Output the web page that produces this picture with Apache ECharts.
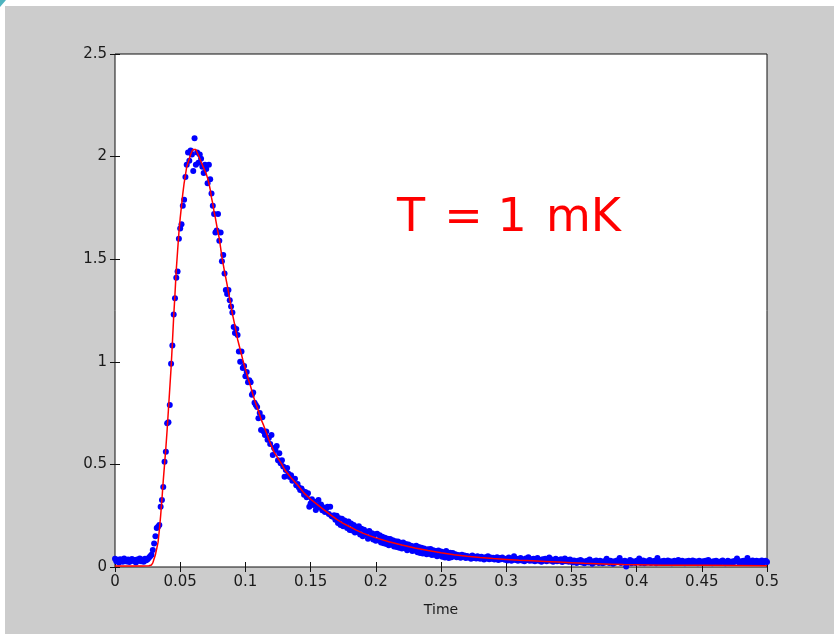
<!DOCTYPE html>
<html>
<head>
<meta charset="utf-8">
<script src="https://cdn.jsdelivr.net/npm/echarts@6/dist/echarts.min.js"></script>
<style>
html,body{margin:0;padding:0;background:#fff;width:834px;height:634px;overflow:hidden;}
#chart{position:absolute;left:5px;top:6px;width:829px;height:628px;}
#corner{position:absolute;left:0;top:0;width:6px;height:7px;background:#4fb4bf;clip-path:polygon(0 0,100% 0,0 100%);}
</style>
</head>
<body>
<div id="corner"></div>
<div id="chart"></div>
<script>
// Measured samples: one value every 0.001 s, from t = 0 to t = 0.5
const sampleStart = 0;
const sampleStep = 0.001;
const measured = [
0.040,0.028,0.035,0.022,0.038,0.030,0.026,0.041,0.033,0.027,
0.036,0.024,0.031,0.039,0.029,0.034,0.022,0.037,0.030,0.042,
0.028,0.035,0.026,0.040,0.033,0.038,0.045,0.052,0.060,0.083,
0.115,0.150,0.190,0.196,0.205,0.294,0.327,0.390,0.513,0.562,
0.700,0.705,0.790,0.990,1.080,1.230,1.310,1.410,1.440,1.600,
1.650,1.670,1.760,1.790,1.900,1.960,2.020,1.980,2.030,2.010,
1.930,2.090,1.960,2.020,1.970,2.010,1.990,1.950,1.920,1.960,
1.940,1.870,1.960,1.890,1.820,1.760,1.720,1.630,1.640,1.720,
1.590,1.630,1.490,1.520,1.430,1.350,1.330,1.350,1.300,1.270,
1.240,1.170,1.140,1.160,1.130,1.050,1.000,1.050,0.970,0.980,
0.930,0.950,0.900,0.910,0.900,0.840,0.850,0.800,0.790,0.780,
0.725,0.750,0.668,0.730,0.660,0.643,0.660,0.620,0.630,0.600,
0.643,0.546,0.580,0.570,0.590,0.520,0.554,0.505,0.520,0.490,
0.440,0.473,0.482,0.455,0.438,0.447,0.420,0.424,0.430,0.398,
0.405,0.388,0.375,0.382,0.370,0.352,0.365,0.340,0.359,0.294,
0.310,0.330,0.302,0.318,0.278,0.300,0.327,0.290,0.305,0.276,
0.290,0.268,0.285,0.294,0.258,0.294,0.248,0.245,0.252,0.230,
0.250,0.215,0.238,0.205,0.235,0.198,0.226,0.214,0.190,0.222,
0.180,0.212,0.178,0.205,0.168,0.196,0.172,0.198,0.158,0.186,
0.150,0.182,0.160,0.170,0.138,0.176,0.146,0.165,0.134,0.160,
0.128,0.162,0.130,0.155,0.120,0.148,0.116,0.142,0.112,0.138,
0.106,0.136,0.110,0.130,0.100,0.126,0.098,0.124,0.094,0.118,
0.090,0.120,0.092,0.112,0.082,0.110,0.086,0.104,0.078,0.100,
0.080,0.104,0.072,0.098,0.068,0.094,0.066,0.090,0.074,0.062,
0.086,0.064,0.088,0.058,0.082,0.060,0.078,0.052,0.080,0.056,
0.076,0.050,0.072,0.046,0.078,0.052,0.044,0.070,0.048,0.068,
0.052,0.062,0.048,0.058,0.055,0.045,0.060,0.050,0.056,0.044,
0.054,0.046,0.050,0.040,0.056,0.044,0.050,0.042,0.052,0.046,
0.040,0.050,0.044,0.036,0.048,0.042,0.052,0.038,0.046,0.040,
0.045,0.036,0.042,0.048,0.034,0.044,0.038,0.046,0.040,0.035,
0.040,0.032,0.046,0.036,0.030,0.042,0.052,0.034,0.040,0.030,
0.038,0.044,0.032,0.036,0.028,0.042,0.034,0.048,0.030,0.038,
0.032,0.040,0.028,0.036,0.044,0.030,0.034,0.026,0.038,0.032,
0.040,0.028,0.034,0.046,0.030,0.036,0.026,0.032,0.040,0.028,
0.034,0.030,0.038,0.024,0.032,0.042,0.028,0.034,0.026,0.036,
0.028,0.022,0.032,0.026,0.020,0.030,0.024,0.034,0.022,0.028,
0.018,0.026,0.030,0.022,0.036,0.024,0.016,0.028,0.022,0.032,
0.026,0.020,0.030,0.024,0.018,0.028,0.022,0.040,0.026,0.020,
0.030,0.024,0.016,0.028,0.022,0.032,0.026,0.044,0.020,0.028,
0.024,0.030,0.002,0.022,0.026,0.034,0.018,0.028,0.024,0.020,
0.030,0.024,0.042,0.020,0.026,0.032,0.018,0.028,0.022,0.026,
0.034,0.020,0.028,0.024,0.030,0.018,0.044,0.026,0.022,0.028,
0.024,0.030,0.020,0.026,0.032,0.022,0.028,0.018,0.026,0.030,
0.022,0.028,0.034,0.020,0.026,0.030,0.024,0.018,0.028,0.024,
0.030,0.020,0.026,0.032,0.022,0.028,0.024,0.018,0.030,0.026,
0.022,0.028,0.020,0.030,0.024,0.034,0.022,0.026,0.018,0.028,
0.024,0.030,0.022,0.026,0.020,0.028,0.032,0.024,0.018,0.026,
0.030,0.022,0.026,0.020,0.028,0.024,0.032,0.042,0.026,0.020,
0.028,0.024,0.030,0.022,0.026,0.044,0.020,0.028,0.024,0.032,
0.022,0.026,0.030,0.020,0.028,0.024,0.032,0.022,0.026,0.030,0.024
];

// Fitted curve (red)
const fitTime = [0,0.01,0.02,0.026,0.028,0.029,0.030,0.031,0.032,0.033,0.034,0.035,0.036,0.037,0.038,0.039,0.040,0.041,0.042,0.043,0.044,0.045,0.046,0.047,0.048,0.049,0.050,0.051,0.052,0.053,0.054,0.055,0.056,0.057,0.058,0.059,0.060,0.061,0.062,0.063,0.064,0.065,0.066,0.067,0.068,0.069,0.070,0.071,0.072,0.073,0.074,0.075,0.076,0.077,0.078,0.079,0.080,0.082,0.084,0.086,0.088,0.090,0.092,0.094,0.096,0.098,0.100,0.102,0.104,0.106,0.108,0.110,0.112,0.114,0.116,0.118,0.120,0.122,0.124,0.126,0.128,0.130,0.135,0.140,0.145,0.150,0.155,0.160,0.165,0.170,0.175,0.180,0.185,0.190,0.195,0.200,0.21,0.22,0.23,0.24,0.25,0.26,0.27,0.28,0.29,0.30,0.31,0.32,0.33,0.34,0.35,0.36,0.37,0.38,0.39,0.40,0.42,0.45,0.5];
const fitValue = [0.005,0.005,0.005,0.006,0.01,0.02,0.04,0.06,0.09,0.12,0.18,0.25,0.33,0.42,0.50,0.58,0.67,0.77,0.87,0.97,1.09,1.22,1.33,1.45,1.54,1.63,1.70,1.76,1.82,1.87,1.91,1.95,1.97,1.99,2.01,2.025,2.035,2.04,2.035,2.02,2.005,1.99,1.975,1.96,1.945,1.93,1.915,1.895,1.87,1.84,1.80,1.77,1.73,1.70,1.665,1.63,1.60,1.51,1.44,1.375,1.305,1.235,1.175,1.11,1.06,1.01,0.965,0.92,0.88,0.835,0.795,0.76,0.72,0.69,0.655,0.62,0.59,0.56,0.54,0.52,0.50,0.475,0.435,0.40,0.36,0.33,0.305,0.28,0.255,0.232,0.213,0.196,0.18,0.165,0.153,0.142,0.123,0.107,0.093,0.080,0.069,0.060,0.052,0.046,0.041,0.037,0.033,0.030,0.027,0.024,0.021,0.018,0.016,0.014,0.012,0.011,0.009,0.008,0.006];

const xTicks = {min: 0, max: 0.5, interval: 0.05};
const yTicks = {min: 0, max: 2.5, interval: 0.5};
const xLabel = 'Time';
const annotation = 'T\u200A = 1\u200A mK';

const scatterData = measured.map((v, i) => [+(sampleStart + i * sampleStep).toFixed(3), v]);
const fitData = fitTime.map((t, i) => [t, fitValue[i]]);

const chart = echarts.init(document.getElementById('chart'), null, {renderer: 'canvas'});
const labelFont = {fontFamily: 'DejaVu Sans', fontSize: 15, color: '#1a1a1a'};
const baseAxis = {
  type: 'value',
  splitLine: {show: false},
  axisLine: {show: false},
  axisTick: {show: true, inside: true, length: 5, lineStyle: {color: '#111', width: 1}},
};
chart.setOption({
  backgroundColor: '#cccccc',
  animation: false,
  grid: {left: 110, top: 48, right: 67, bottom: 67, show: true, backgroundColor: '#ffffff', borderColor: '#111', borderWidth: 1},
  xAxis: [
    Object.assign({}, baseAxis, {position: 'bottom', min: xTicks.min, max: xTicks.max, interval: xTicks.interval,
      name: xLabel, nameLocation: 'middle', nameGap: 36, nameTextStyle: {fontFamily: 'DejaVu Sans', fontSize: 14, color: '#1a1a1a'},
      axisLabel: Object.assign({margin: 8, showMaxLabel: true, showMinLabel: true}, labelFont)}),
    Object.assign({}, baseAxis, {position: 'top', min: xTicks.min, max: xTicks.max, interval: xTicks.interval, axisLabel: {show: false}})
  ],
  yAxis: [
    Object.assign({}, baseAxis, {position: 'left', min: yTicks.min, max: yTicks.max, interval: yTicks.interval,
      axisLabel: Object.assign({margin: 8}, labelFont)}),
    Object.assign({}, baseAxis, {position: 'right', min: yTicks.min, max: yTicks.max, interval: yTicks.interval, axisLabel: {show: false}})
  ],
  series: [
    {type: 'scatter', data: scatterData, symbol: 'circle', symbolSize: 6, itemStyle: {color: '#0000ff', opacity: 1}, z: 2, silent: true},
    {type: 'line', data: fitData, showSymbol: false, symbol: 'none', lineStyle: {color: '#ff0000', width: 1.5}, z: 3, silent: true}
  ],
  graphic: [
    {type: 'text', left: 392, top: 190, z: 10, silent: true,
     style: {text: annotation, font: '46px "DejaVu Sans"', fill: '#ff0000'}}
  ]
});
</script>
</body>
</html>
